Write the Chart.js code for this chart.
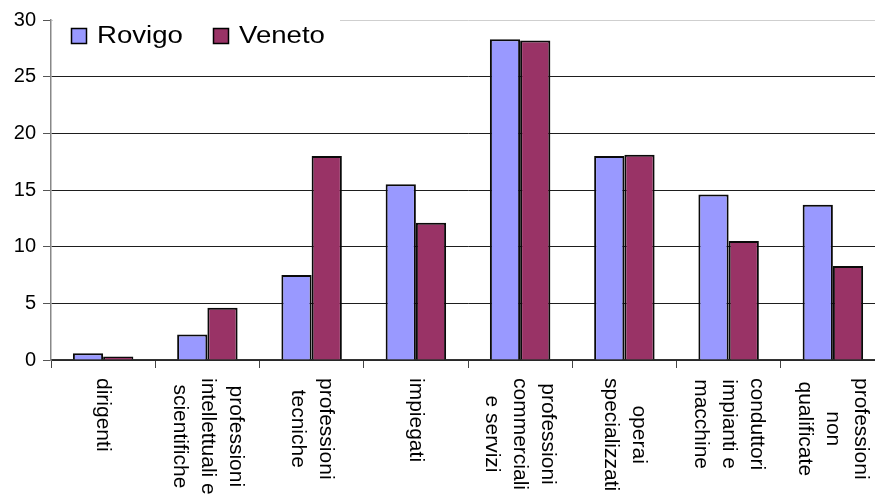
<!DOCTYPE html>
<html>
<head>
<meta charset="utf-8">
<script src="https://cdn.jsdelivr.net/npm/chart.js@4"></script>
<style>
  html, body { margin: 0; padding: 0; background: #fff; overflow: hidden; }
  #wrap { width: 890px; height: 495px; }
</style>
</head>
<body>
<div id="wrap"><canvas id="occChart" width="890" height="495"></canvas></div>
<script>
// categories, split into the lines of the rotated labels
const categories = [
    ['dirigenti'],
    ['professioni', 'intellettuali e', 'scientifiche'],
    ['professioni', 'tecniche'],
    ['impiegati'],
    ['professioni', 'commerciali', 'e servizi'],
    ['operai', 'specializzati'],
    ['conduttori', 'impianti e', 'macchine'],
    ['professioni', 'non', 'qualificate']
];
const seriesNames = ['Rovigo', 'Veneto'];
const rovigo = [0.6, 2.25, 7.5, 15.5, 28.3, 18.0, 14.6, 13.7];
const veneto = [0.3, 4.6, 18.0, 12.1, 28.2, 18.1, 10.5, 8.3];
const yTicks = [0, 5, 10, 15, 20, 25, 30];

const labelFont = '21px "Liberation Sans", Arial, sans-serif';

// rotated category labels (read top to bottom)
const rotatedLabels = {
    id: 'rotatedLabels',
    afterDraw(chart) {
        const c = chart.ctx;
        const xs = chart.scales.x;
        const lh = 28;
        c.save();
        c.font = labelFont;
        c.fillStyle = '#000';
        c.textBaseline = 'middle';
        categories.forEach((lines, i) => {
            const cx = xs.getPixelForValue(i);
            const widths = lines.map(l => c.measureText(l).width);
            const maxW = Math.max(...widths);
            const n = lines.length;
            lines.forEach((line, j) => {
                const x = cx + ((n - 1) / 2 - j) * lh;
                const y = 378 + (maxW - widths[j]) / 2;
                c.save();
                c.translate(x, y);
                c.rotate(Math.PI / 2);
                c.textAlign = 'left';
                c.fillText(line, 0, 0);
                c.restore();
            });
        });
        c.restore();
    }
};

// legend in the top-left corner, on white
const cornerLegend = {
    id: 'cornerLegend',
    afterDraw(chart) {
        const c = chart.ctx;
        c.save();
        c.fillStyle = '#fff';
        c.fillRect(53, 2, 287, 48);
        const xs = [71, 213];
        chart.data.datasets.forEach((ds, i) => {
            c.fillStyle = ds.backgroundColor;
            c.fillRect(xs[i], 28, 15, 15);
            c.strokeStyle = '#000';
            c.lineWidth = 1.5;
            c.strokeRect(xs[i] + 0.5, 28.5, 15, 15);
            c.save();
            c.translate(xs[i] + 26, 43);
            c.scale(1.2, 1);
            c.font = '23px "Liberation Sans", Arial, sans-serif';
            c.fillStyle = '#000';
            c.textBaseline = 'alphabetic';
            c.fillText(ds.label, 0, 0);
            c.restore();
        });
        c.restore();
    }
};

const ctx = document.getElementById('occChart').getContext('2d');
new Chart(ctx, {
    type: 'bar',
    data: {
        labels: categories.map(l => l.join(' ')),
        datasets: [
            {
                label: seriesNames[0],
                data: rovigo,
                backgroundColor: '#9999FF',
                borderColor: '#0a0a0a',
                borderWidth: 2
            },
            {
                label: seriesNames[1],
                data: veneto,
                backgroundColor: '#993366',
                borderColor: '#0a0a0a',
                borderWidth: 2
            }
        ]
    },
    options: {
        responsive: false,
        animation: false,
        layout: { padding: { top: 20, right: 5, left: 0, bottom: 0 } },
        datasets: {
            bar: { barPercentage: 1.0, categoryPercentage: 0.58 }
        },
        plugins: {
            legend: { display: false },
            tooltip: { enabled: false }
        },
        scales: {
            x: {
                ticks: { display: false },
                grid: {
                    display: true,
                    drawOnChartArea: false,
                    drawTicks: true,
                    tickLength: 8,
                    color: '#444',
                    offset: true
                },
                border: { color: '#333', width: 1.5 },
                afterFit(scale) { scale.height = 135; }
            },
            y: {
                min: 0,
                max: 30,
                afterBuildTicks(scale) {
                    scale.ticks = yTicks.map(v => ({ value: v }));
                },
                ticks: {
                    color: '#000',
                    padding: 7,
                    font: { family: '"Liberation Sans", Arial, sans-serif', size: 20 }
                },
                grid: {
                    color: c => c.tick && c.tick.value === 30 ? '#cfcfcf' : '#1e1e1e',
                    tickColor: '#555',
                    tickLength: 8,
                    lineWidth: 1
                },
                border: { color: '#888', width: 1.5 },
                afterFit(scale) { scale.width = 51; }
            }
        }
    },
    plugins: [rotatedLabels, cornerLegend]
});
</script>
</body>
</html>
